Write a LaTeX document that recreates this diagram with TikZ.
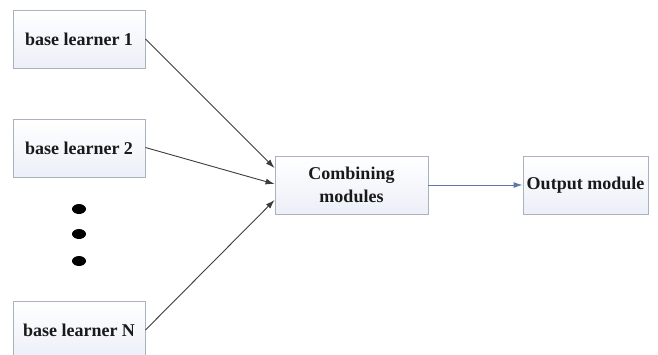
\documentclass[tikz,border=0pt]{standalone}
\usepackage{fontspec}
\setmainfont{Liberation Serif}
\usetikzlibrary{arrows.meta}
\definecolor{boxborder}{RGB}{170,178,192}
\definecolor{boxfillA}{RGB}{255,255,255}
\definecolor{boxfillB}{RGB}{236,239,248}
\definecolor{linegray}{RGB}{60,60,60}
\definecolor{outblue}{RGB}{90,120,170}
\tikzset{
  modbox/.style={draw=boxborder, line width=0.9pt, top color=boxfillA, bottom color=boxfillB,
    minimum height=58pt, inner sep=0pt, align=center, text=black!90,
    font=\fontsize{18}{23}\selectfont\bfseries},
  conn/.style={draw=linegray, line width=0.9pt, -{Latex[length=9pt,width=6pt]}},
  outconn/.style={draw=outblue, line width=1pt, -{Latex[length=9pt,width=6pt]}},
  bigdot/.style={fill=black, draw=none}
}
\begin{document}
\begin{tikzpicture}[x=1pt,y=-1pt]
\useasboundingbox (0,0) rectangle (658,354);
\begin{scope}
\clip (0,0) rectangle (658,354);
\node[modbox, minimum width=132pt] (bl1) at (79,39) {base learner 1};
\node[modbox, minimum width=132pt] (bl2) at (79,148.5) {base learner 2};
\node[modbox, minimum width=132pt] (bln) at (79,330) {base learner N};
\end{scope}
\node[modbox, minimum width=153pt] (comb) at (351.5,185) {Combining\\modules};
\node[modbox, minimum width=125pt] (out) at (585.5,185) {Output module};
\fill[bigdot] (79,209) ellipse [x radius=7, y radius=5];
\fill[bigdot] (79,234) ellipse [x radius=7, y radius=5];
\fill[bigdot] (79,261) ellipse [x radius=7, y radius=5];
\draw[conn] (bl1.east) -- ([yshift=17pt]comb.west);
\draw[conn] ([yshift=1pt]bl2.east) -- ([yshift=1pt]comb.west);
\draw[conn] (bln.east) -- ([yshift=-15pt]comb.west);
\draw[outconn] (comb.east) -- (out.west);
\end{tikzpicture}
\end{document}
